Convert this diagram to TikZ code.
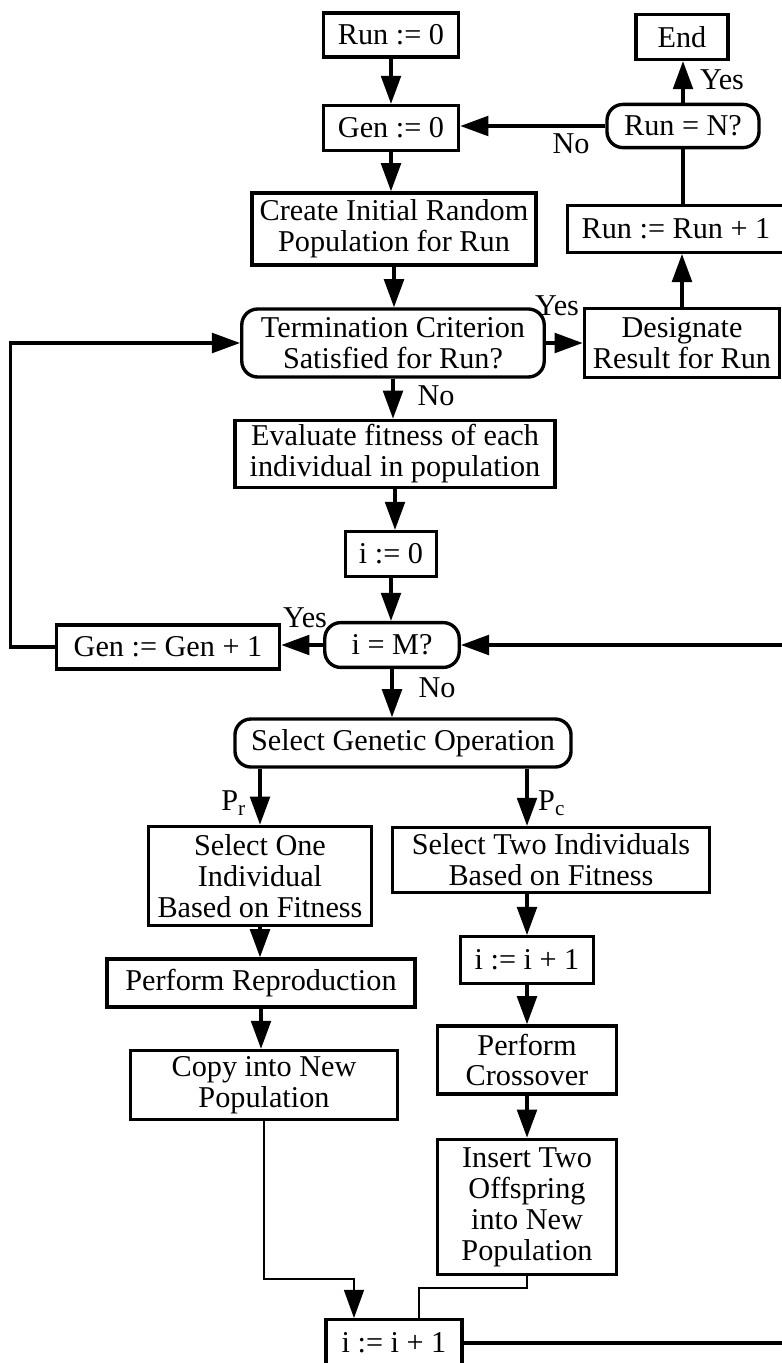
\documentclass[tikz,border=0pt]{standalone}
\usepackage{fontspec}
\setmainfont{Liberation Serif}
\usetikzlibrary{arrows.meta}
\begin{document}
\begin{tikzpicture}[x=0.0125cm,y=-0.0125cm]
	\tikzstyle{box}=[draw,line width=1.2pt,inner sep=0pt,align=center,font=\fontsize{10.75}{11}\selectfont]
	\tikzstyle{rbox}=[box,rounded corners=0.2cm]
	\tikzstyle{lbl}=[inner sep=0pt,font=\fontsize{10.75}{11}\selectfont]
	\tikzstyle{arr}=[line width=1.2pt,-{Triangle[length=10pt,width=7pt]}]
	\tikzstyle{thinarr}=[line width=0.8pt,-{Triangle[length=10pt,width=7pt]}]
	\useasboundingbox (0,0) rectangle (781,1363);
	% main column
	\node[box,minimum width=1.69cm,minimum height=0.55cm] (run0) at (391,35) {Run := 0};
	\node[box,minimum width=1.69cm,minimum height=0.56cm] (gen0) at (391,128) {Gen := 0};
	\node[box,minimum width=3.55cm,minimum height=0.9cm] (create) at (394,229) {Create Initial Random\\Population for Run};
	\node[rbox,minimum width=3.78cm,minimum height=0.85cm] (term) at (393,343) {Termination Criterion\\Satisfied for Run?};
	\node[box,minimum width=4cm,minimum height=0.84cm] (eval) at (395,454) {Evaluate fitness of each\\individual in population};
	\node[box,minimum width=1.13cm,minimum height=0.56cm] (izero) at (391,554) {i := 0};
	\node[rbox,minimum width=1.68cm,minimum height=0.56cm] (iM) at (392,645) {i = M?};
	\node[box,minimum width=2.79cm,minimum height=0.55cm] (genplus) at (168,647) {Gen := Gen + 1};
	\node[rbox,minimum width=4.2cm,minimum height=0.6cm] (sgo) at (403,743) {Select Genetic Operation};
	% right column
	\node[box,minimum width=1.15cm,minimum height=0.56cm] (endn) at (682,37) {End};
	\node[rbox,minimum width=1.9cm,minimum height=0.54cm] (runN) at (683,126) {Run = N?};
	\node[box,minimum width=2.71cm,minimum height=0.58cm] (runplus) at (676,229) {Run := Run + 1};
	\node[box,minimum width=2.44cm,minimum height=0.86cm] (design) at (682,343) {Designate\\Result for Run};
	% reproduction branch
	\node[box,minimum width=2.79cm,minimum height=1.24cm] (selone) at (260,876) {Select One\\Individual\\Based on Fitness};
	\node[box,minimum width=3.85cm,minimum height=0.6cm] (perfrep) at (261,983) {Perform Reproduction};
	\node[box,minimum width=3.33cm,minimum height=0.86cm] (copy) at (264,1085) {Copy into New\\Population};
	% crossover branch
	\node[box,minimum width=3.96cm,minimum height=0.81cm] (seltwo) at (551,860) {Select Two Individuals\\Based on Fitness};
	\node[box,minimum width=1.66cm,minimum height=0.58cm] (iplus) at (527,960) {i := i + 1};
	\node[box,minimum width=2.24cm,minimum height=0.85cm] (cross) at (527,1060) {Perform\\Crossover};
	\node[box,minimum width=2.24cm,minimum height=1.69cm] (insert) at (527,1207) {Insert Two\\Offspring\\into New\\Population};
	\node[box,minimum width=1.7cm,minimum height=0.58cm] (iplusb) at (394,1343) {i := i + 1};
	% labels
	\node[lbl] (yesend) at (722,80) {Yes};
	\node[lbl] (norun) at (571,144) {No};
	\node[lbl] (yesterm) at (557,306) {Yes};
	\node[lbl] (noterm) at (436,396) {No};
	\node[lbl] (yesiM) at (305,618) {Yes};
	\node[lbl] (noiM) at (437,688) {No};
	\node[lbl] (pr) at (234,803) {P\textsubscript{r}};
	\node[lbl] (pc) at (552,803) {P\textsubscript{c}};
	% connectors
	\draw[arr] (run0.south) -- (run0.south |- gen0.north);
	\draw[arr] (gen0.south) -- (gen0.south |- create.north);
	\draw[arr] (create.south) -- (create.south |- term.north);
	\draw[arr] (term.south) -- (term.south |- eval.north);
	\draw[arr] (eval.south) -- (eval.south |- izero.north);
	\draw[arr] (izero.south) -- (izero.south |- iM.north);
	\draw[arr] (iM.south) -- (iM.south |- sgo.north);
	\draw[arr] (term.east) -- (design.west);
	\draw[arr] (design.north) -- (design.north |- runplus.south);
	\draw[line width=1.2pt] (runN.south |- runplus.north) -- (runN.south);
	\draw[arr] (runN.north) -- (runN.north |- endn.south);
	\draw[arr] (runN.west) -- (runN.west -| gen0.east);
	\draw[arr] (iM.west) -- (iM.west -| genplus.east);
	\draw[arr] (genplus.west) -- ++(-44,0) |- (term.west);
	\draw[arr] (iplusb.east) -- ++(330,0) |- (iM.east);
	\draw[arr] (sgo.south -| selone.north) -- (selone.north);
	\draw[arr] (sgo.south -| iplus.north) -- (iplus.north |- seltwo.north);
	\draw[arr] (selone.south) -- (selone.south |- perfrep.north);
	\draw[arr] (perfrep.south) -- (perfrep.south |- copy.north);
	\draw[arr] (iplus.north |- seltwo.south) -- (iplus.north);
	\draw[arr] (iplus.south) -- (cross.north);
	\draw[arr] (cross.south) -- (insert.north);
	\draw[thinarr] (copy.south) -- ++(0,158) -| ([xshift=-0.5cm]iplusb.north);
	\draw[line width=0.8pt] (insert.south) -- ++(0,12) -| ([xshift=0.31cm]iplusb.north);
\end{tikzpicture}
\end{document}
